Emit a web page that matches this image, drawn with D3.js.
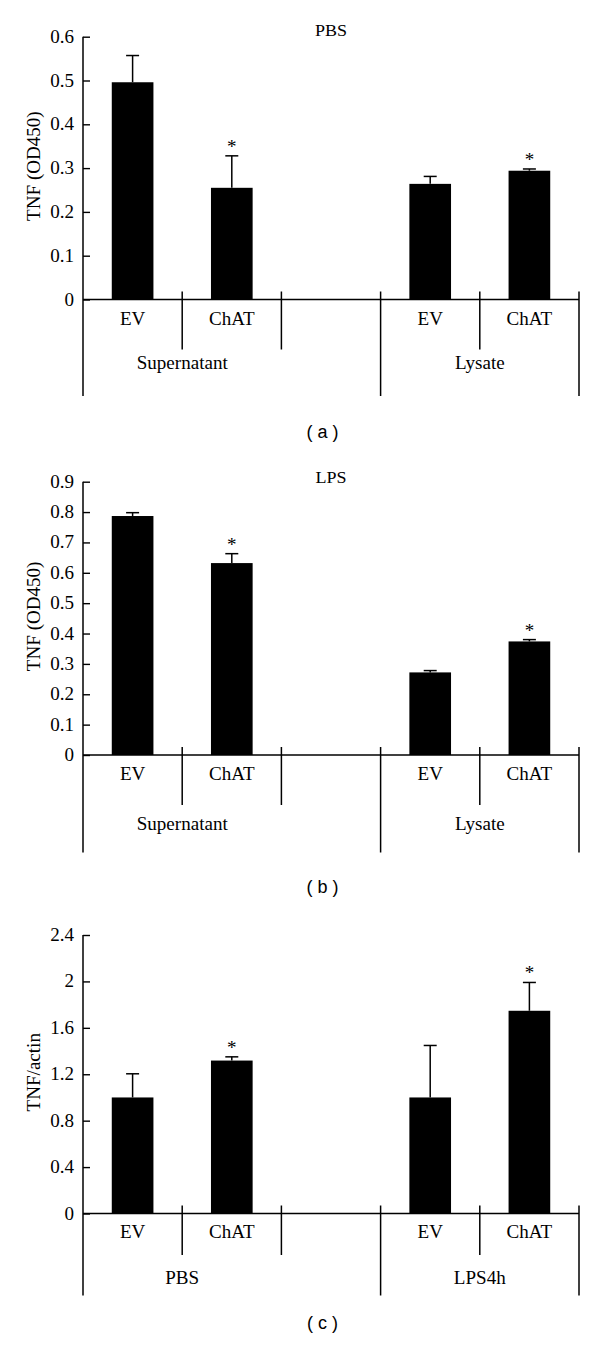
<!DOCTYPE html>
<html>
<head>
<meta charset="utf-8">
<script src="https://cdn.jsdelivr.net/npm/d3@7"></script>
<style>
  html, body { margin: 0; padding: 0; background: #fff; }
  svg { display: block; }
</style>
</head>
<body>
<svg id="chart" width="600" height="1346"></svg>
<script>
// ---------- data ----------
const bandKeys = ["g1-EV", "g1-ChAT", "gap", "g2-EV", "g2-ChAT"];
const barKeys = ["g1-EV", "g1-ChAT", "g2-EV", "g2-ChAT"];
const barLabels = ["EV", "ChAT", "EV", "ChAT"];
const significant = [false, true, false, true];

const panelATitle = "PBS";
const panelAGroups = ["Supernatant", "Lysate"];
const panelAValues = [0.496, 0.255, 0.264, 0.294];
const panelAErrors = [0.061, 0.073, 0.017, 0.004];
const panelATicks = [0, 0.1, 0.2, 0.3, 0.4, 0.5, 0.6];
const panelAYLabel = "TNF (OD450)";

const panelBTitle = "LPS";
const panelBGroups = ["Supernatant", "Lysate"];
const panelBValues = [0.787, 0.632, 0.272, 0.374];
const panelBErrors = [0.011, 0.031, 0.006, 0.006];
const panelBTicks = [0, 0.1, 0.2, 0.3, 0.4, 0.5, 0.6, 0.7, 0.8, 0.9];
const panelBYLabel = "TNF (OD450)";

const panelCGroups = ["PBS", "LPS4h"];
const panelCValues = [1.0, 1.318, 1.0, 1.747];
const panelCErrors = [0.204, 0.032, 0.448, 0.244];
const panelCTicks = [0, 0.4, 0.8, 1.2, 1.6, 2, 2.4];
const panelCYLabel = "TNF/actin";

const panelLetters = ["( a )", "( b )", "( c )"];

// ---------- layout ----------
const panels = [
  { title: panelATitle, groups: panelAGroups, values: panelAValues, errors: panelAErrors,
    ticks: panelATicks, ylabel: panelAYLabel, letter: panelLetters[0],
    y0: 299.5, yTop: 36.7, titleY: 36, catY: 324.5, shortEnd: 349.5, longEnd: 396,
    groupY: 368.5, letterY: 438 },
  { title: panelBTitle, groups: panelBGroups, values: panelBValues, errors: panelBErrors,
    ticks: panelBTicks, ylabel: panelBYLabel, letter: panelLetters[1],
    y0: 755, yTop: 481.7, titleY: 483, catY: 779.5, shortEnd: 805, longEnd: 852.5,
    groupY: 830, letterY: 893 },
  { title: null, groups: panelCGroups, values: panelCValues, errors: panelCErrors,
    ticks: panelCTicks, ylabel: panelCYLabel, letter: panelLetters[2],
    y0: 1213.5, yTop: 935, titleY: null, catY: 1237.5, shortEnd: 1255, longEnd: 1295.5,
    groupY: 1284, letterY: 1329 }
];

const svg = d3.select("#chart");
const serif = "'Liberation Serif', 'Times New Roman', serif";
const stretch = 1.06;
const fs = 18;

const x = d3.scaleBand().domain(bandKeys).range([83, 579]).padding(0);
const bw = x.bandwidth();
const barW = bw * 0.42;
const capW = 13;
const fmt = d3.format("~g");

function stext(g, str, px, py, anchor, size) {
  return g.append("text")
    .attr("transform", `translate(${px},${py}) scale(${stretch},1)`)
    .attr("text-anchor", anchor)
    .attr("font-family", serif)
    .attr("font-size", size || fs)
    .attr("fill", "#000")
    .text(str);
}

panels.forEach(p => {
  const g = svg.append("g");
  const tmax = p.ticks[p.ticks.length - 1];
  const y = d3.scaleLinear().domain([0, tmax]).range([p.y0, p.yTop]);

  // y axis (ticks inward)
  const axis = d3.axisRight(y).tickValues(p.ticks).tickSize(7).tickFormat("");
  const ag = g.append("g").attr("transform", `translate(${x.range()[0]},0)`).call(axis);
  ag.select(".domain").remove();
  ag.selectAll(".tick line").attr("stroke", "#000").attr("stroke-width", 1.4);
  // tick labels
  p.ticks.forEach(t => {
    stext(g, fmt(t), 74, y(t) + 6, "end", fs);
  });
  // y-axis line extended down to long divider
  g.append("line")
    .attr("x1", x.range()[0]).attr("x2", x.range()[0])
    .attr("y1", y(tmax)).attr("y2", p.longEnd)
    .attr("stroke", "#000").attr("stroke-width", 1.5);
  // baseline
  g.append("line")
    .attr("x1", x.range()[0]).attr("x2", x.range()[1])
    .attr("y1", y(0)).attr("y2", y(0))
    .attr("stroke", "#000").attr("stroke-width", 1.5);

  // dividers
  const shortDiv = [x("g1-ChAT"), x("gap"), x("g2-ChAT")];
  const longDiv = [x("g2-EV"), x.range()[1]];
  shortDiv.forEach(d => {
    g.append("line").attr("x1", d).attr("x2", d)
      .attr("y1", y(0) - 8).attr("y2", p.shortEnd)
      .attr("stroke", "#000").attr("stroke-width", 1.5);
  });
  longDiv.forEach(d => {
    g.append("line").attr("x1", d).attr("x2", d)
      .attr("y1", y(0) - 8).attr("y2", p.longEnd)
      .attr("stroke", "#000").attr("stroke-width", 1.5);
  });

  // bars
  const rows = barKeys.map((k, i) => ({ k, v: p.values[i], e: p.errors[i], sig: significant[i], lab: barLabels[i] }));
  g.selectAll("rect.bar").data(rows).enter().append("rect")
    .attr("class", "bar")
    .attr("x", d => x(d.k) + bw / 2 - barW / 2)
    .attr("width", barW)
    .attr("y", d => y(d.v))
    .attr("height", d => y(0) - y(d.v))
    .attr("fill", "#000");

  // error bars
  rows.forEach(d => {
    const cx = x(d.k) + bw / 2;
    g.append("line").attr("x1", cx).attr("x2", cx)
      .attr("y1", y(d.v)).attr("y2", y(d.v + d.e))
      .attr("stroke", "#000").attr("stroke-width", 1.5);
    g.append("line").attr("x1", cx - capW / 2).attr("x2", cx + capW / 2)
      .attr("y1", y(d.v + d.e)).attr("y2", y(d.v + d.e))
      .attr("stroke", "#000").attr("stroke-width", 1.5);
    if (d.sig) {
      stext(g, "*", cx, y(d.v + d.e) - 3, "middle", fs);
    }
    // category label
    stext(g, d.lab, cx, p.catY, "middle", fs);
  });

  // group labels
  stext(g, p.groups[0], x("g1-ChAT"), p.groupY, "middle", fs);
  stext(g, p.groups[1], x("g2-ChAT"), p.groupY, "middle", fs);

  // title
  if (p.title) stext(g, p.title, 331, p.titleY, "middle", 17);

  // y label
  g.append("text")
    .attr("transform", `translate(40,${(y(0) + y(tmax)) / 2 - 2}) rotate(-90) scale(${stretch},1)`)
    .attr("text-anchor", "middle")
    .attr("font-family", serif)
    .attr("font-size", fs)
    .attr("fill", "#000")
    .text(p.ylabel);

  // panel letter
  g.append("text")
    .attr("x", 322.5).attr("y", p.letterY)
    .attr("text-anchor", "middle")
    .attr("font-family", "'Liberation Sans', Arial, sans-serif")
    .attr("font-size", 18)
    .attr("fill", "#000")
    .text(p.letter);
});
</script>
</body>
</html>
